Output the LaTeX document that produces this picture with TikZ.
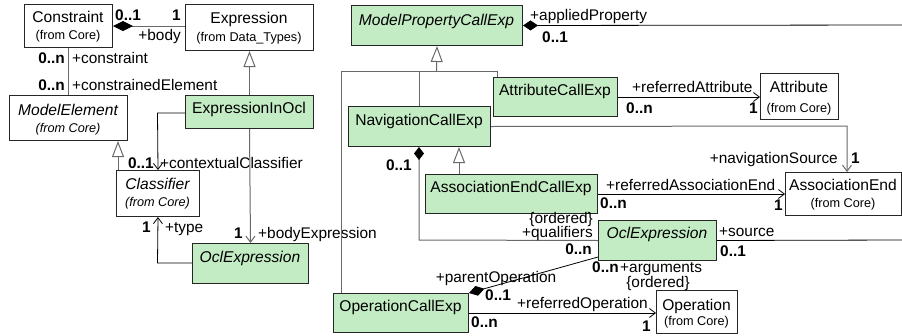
\documentclass[tikz,border=0pt]{standalone}
\usepackage{fontspec}
\setmainfont{Liberation Sans}
\usetikzlibrary{arrows.meta}
\definecolor{clsgreen}{RGB}{196,236,196}
\definecolor{linegray}{RGB}{105,105,105}
\tikzset{
  cls/.style={draw=black!85, line width=1pt, anchor=north west, inner sep=0pt},
  green/.style={fill=clsgreen},
  cname/.style={font=\fontsize{15.6}{17}\selectfont, inner sep=0pt, anchor=base},
  corigin/.style={font=\fontsize{12.7}{14}\selectfont, inner sep=0pt, anchor=base},
  lbl/.style={font=\fontsize{15.4}{17}\selectfont, inner sep=0pt},
  mult/.style={font=\fontsize{15.4}{17}\selectfont\bfseries, inner sep=0pt},
  assoc/.style={draw=black, line width=0.8pt},
  gline/.style={draw=linegray, line width=1pt},
  nav/.style={-{Straight Barb[length=6pt,width=9pt]}},
  gen/.style={-{Triangle[open,length=16pt,width=12pt]}},
  comp/.style={{Diamond[length=#1,width=10pt,color=black]}-},
  comp/.default=16pt
}
\begin{document}
\begin{tikzpicture}[x=1pt,y=-1pt]
\useasboundingbox (0,0) rectangle (902,335);

% ---- classes ----
\node[cls, minimum width=88pt, minimum height=43pt] (constraint) at (24,4) {};
\node[cname] (constraint-n) at (68,22.5) {Constraint};
\node[corigin] (constraint-o) at (68,39.5) {(from Core)};

\node[cls, minimum width=128pt, minimum height=46pt] (expression) at (185,4) {};
\node[cname] (expression-n) at (249,23.5) {Expression};
\node[corigin] (expression-o) at (249,41.5) {(from Data\_Types)};

\node[cls, minimum width=118pt, minimum height=45pt] (modelelement) at (9,95) {};
\node[cname] (modelelement-n) at (68,115.5) {\itshape ModelElement};
\node[corigin] (modelelement-o) at (68,132.5) {\itshape (from Core)};

\node[cls, green, minimum width=128pt, minimum height=33pt] (exprinocl) at (185,95) {};
\node[cname] (exprinocl-n) at (249,113.5) {ExpressionInOcl};

\node[cls, minimum width=83pt, minimum height=46pt] (classifier) at (116,170) {};
\node[cname] (classifier-n) at (157.5,189.5) {\itshape Classifier};
\node[corigin] (classifier-o) at (157.5,206.5) {\itshape (from Core)};

\node[cls, green, minimum width=116pt, minimum height=40pt] (oclleft) at (192,243) {};
\node[cname] (oclleft-n) at (250,262.5) {\itshape OclExpression};

\node[cls, green, minimum width=171pt, minimum height=40pt] (mpce) at (351,5) {};
\node[cname] (mpce-n) at (436.5,25.5) {\itshape ModelPropertyCallExp};

\node[cls, green, minimum width=124pt, minimum height=39pt] (attrcall) at (493,77) {};
\node[cname] (attrcall-n) at (555,95.5) {AttributeCallExp};

\node[cls, green, minimum width=142pt, minimum height=40pt] (navcall) at (348,106) {};
\node[cname] (navcall-n) at (419,125.5) {NavigationCallExp};

\node[cls, green, minimum width=172pt, minimum height=39pt] (aecall) at (425,174) {};
\node[cname] (aecall-n) at (511,192.5) {AssociationEndCallExp};

\node[cls, green, minimum width=118pt, minimum height=40pt] (oclright) at (598,220) {};
\node[cname] (oclright-n) at (657,238.5) {\itshape OclExpression};

\node[cls, green, minimum width=135pt, minimum height=39pt] (opcall) at (333,293) {};
\node[cname] (opcall-n) at (400.5,311.5) {OperationCallExp};

\node[cls, minimum width=78pt, minimum height=46pt] (attribute) at (760,73) {};
\node[cname] (attribute-n) at (799,92.5) {Attribute};
\node[corigin] (attribute-o) at (799,112.5) {(from Core)};

\node[cls, minimum width=116pt, minimum height=43pt] (assocend) at (785,172) {};
\node[cname] (assocend-n) at (843,190.5) {AssociationEnd};
\node[corigin] (assocend-o) at (843,207.5) {(from Core)};

\node[cls, minimum width=81pt, minimum height=43pt] (operation) at (656,290) {};
\node[cname] (operation-n) at (696.5,310.5) {Operation};
\node[corigin] (operation-o) at (696.5,325.5) {(from Core)};

% ---- junction points ----
\coordinate (megen) at (118,170);
\coordinate (ctxturn) at (157.5,113);
\coordinate (typeturn) at (157.5,263);
\coordinate (treeL) at (341,71);
\coordinate (treeM) at (419,71);
\coordinate (treeC) at (436.5,71);
\coordinate (treeR) at (497,71);
\coordinate (aecgen) at (459,174);
\coordinate (qturn) at (419,240);
\coordinate (navturn) at (847,126);
\coordinate (apEnd) at (902,25);
\coordinate (srcEnd) at (902,240);

% ---- Constraint / Expression ----
\draw[gline, comp=20pt] (constraint.east) -- (constraint.east -| expression.west);
\node[mult, anchor=base west] (m-c1) at (115,20.5) {0..1};
\node[mult, anchor=base east] (m-c2) at (181,20.5) {1};
\node[lbl, anchor=base east] (r-body) at (181,40.5) {+body};

\draw[gline] (constraint.south) -- (constraint.south |- modelelement.north);
\node[mult, anchor=base east] (m-c3) at (65,63.5) {0..n};
\node[lbl, anchor=base west] (r-constraint) at (72,63.5) {+constraint};
\node[mult, anchor=base east] (m-c4) at (65,90.5) {0..n};
\node[lbl, anchor=base west] (r-celem) at (72,90.5) {+constrainedElement};

\draw[gline, gen] (exprinocl.north) -- (expression.south);
\draw[gline, gen] (megen) -- (megen |- modelelement.south);

\draw[assoc, nav] (exprinocl.west |- ctxturn) -- (ctxturn) -- (classifier.north);
\node[mult, anchor=base east] (m-ctx) at (154,168) {0..1};
\node[lbl, anchor=base west] (r-ctx) at (160,168) {+contextualClassifier};

\draw[gline, nav] (exprinocl.south) -- (oclleft.north);
\node[mult, anchor=base east] (m-body) at (243,238.5) {1};
\node[lbl, anchor=base west] (r-bodyexp) at (258,238.5) {+bodyExpression};

\draw[assoc, nav] (oclleft.west |- typeturn) -- (typeturn) -- (classifier.south);
\node[mult, anchor=base east] (m-type) at (151,232.5) {1};
\node[lbl, anchor=base west] (r-type) at (165,232.5) {+type};

% ---- property call hierarchy ----
\draw[gline, gen] (treeC) -- (mpce.south);
\draw[gline] (treeL |- opcall.north) -- (treeL) -- (treeR) -- (treeR |- attrcall.north);
\draw[gline] (treeM) -- (treeM |- navcall.north);
\draw[gline, gen] (aecgen) -- (aecgen |- navcall.south);

\draw[assoc, comp=15pt] (mpce.east) -- (apEnd);
\node[lbl, anchor=base west] (r-applied) at (530,20.5) {+appliedProperty};
\node[mult, anchor=base west] (m-applied) at (542,42.5) {0..1};

\draw[assoc, nav] (attrcall.east) -- (attrcall.east -| attribute.west);
\node[lbl, anchor=base west] (r-refattr) at (632,92.5) {+referredAttribute};
\node[mult, anchor=base west] (m-refattr1) at (626,113.5) {0..n};
\node[mult, anchor=base east] (m-refattr2) at (758,113.5) {1};

\draw[gline, nav] (navcall.east) -- (navturn) -- (navturn |- assocend.north);
\node[lbl, anchor=base east] (r-navsrc) at (838,163.5) {+navigationSource};
\node[mult, anchor=base west] (m-navsrc) at (851,163.5) {1};

\draw[gline, comp=13pt] (navcall.south -| qturn) -- (qturn) -- (oclright.west);
\node[mult, anchor=base east] (m-qual1) at (412,170.5) {0..1};
\node[lbl, anchor=base east] (r-qord) at (593,223.5) {\{ordered\}};
\node[lbl, anchor=base east] (r-qual) at (593,237.5) {+qualifiers};
\node[mult, anchor=base east] (m-qual2) at (592,254) {0..n};

\draw[assoc, nav] (aecall.east) -- (aecall.east -| assocend.west);
\node[lbl, anchor=base west] (r-refae) at (606,190.5) {+referredAssociationEnd};
\node[mult, anchor=base west] (m-refae1) at (600,208.5) {0..n};
\node[mult, anchor=base east] (m-refae2) at (783,210) {1};

\draw[assoc] (oclright.west -| oclright.east) -- (srcEnd);
\node[lbl, anchor=base west] (r-source) at (719,236.5) {+source};
\node[mult, anchor=base west] (m-source) at (720,256) {0..1};

\draw[assoc, comp=16pt] (opcall.north east) -- ([yshift=4pt]oclright.south west);
\node[lbl, anchor=base] (r-parent) at (496,282.5) {+parentOperation};
\node[mult, anchor=base west] (m-parent) at (485,300.5) {0..1};
\node[mult, anchor=base west] (m-args) at (592,272) {0..n};
\node[lbl, anchor=base west] (r-args) at (620,272) {+arguments};
\node[lbl, anchor=base] (r-aord) at (658,287.5) {\{ordered\}};

\draw[assoc, nav] (opcall.east) -- (opcall.east -| operation.west);
\node[lbl, anchor=base west] (r-refop) at (517,308.5) {+referredOperation};
\node[mult, anchor=base west] (m-refop1) at (471,327.5) {0..n};
\node[mult, anchor=base east] (m-refop2) at (651,331) {1};
\end{tikzpicture}
\end{document}
